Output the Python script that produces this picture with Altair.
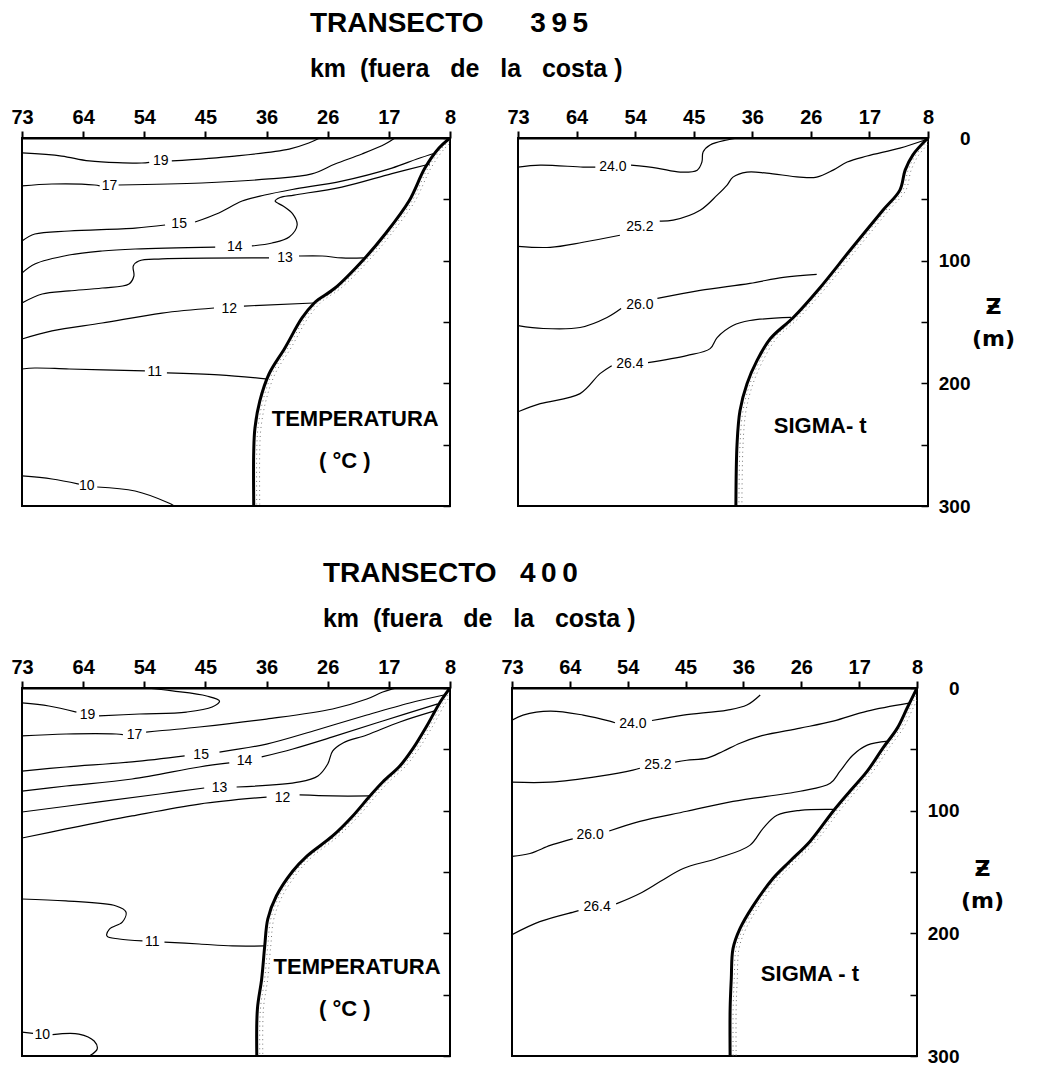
import altair as alt
import pandas as pd

FONT = "Liberation Sans"
KM_LABELS = ["73", "64", "54", "45", "36", "26", "17", "8"]
STATIONS = list(range(8))
DEPTH_TICKS = [0, 50, 100, 150, 200, 250, 300]

# x = station index (0 -> 73 km ... 7 -> 8 km), y = depth (m)
# each contour: (left part, label position, right part)
# ---------------- TRANSECTO 395 : temperatura ----------------
T395_T19 = ([(0, 12.2), (0.65, 14.7), (1.10, 18.7), (1.96, 20.4), (2.08, 19.8)], (2.27, 19.0),
            [(2.45, 18.7), (3.48, 14.7), (4.37, 9.0), (4.69, 4.1), (4.87, 0)])
T395_T17 = ([(0, 39.1), (0.49, 37.5), (1.19, 38.3), (1.27, 39.0)], (1.43, 39.5),
            [(1.58, 38.3), (2.94, 36.7), (4.04, 33.4), (4.74, 29.3), (5.12, 21.2), (5.56, 13.0), (5.94, 4.9), (6.10, 0)])
T395_T15 = ([(0, 84.0), (0.21, 78.3), (0.77, 75.8), (1.85, 73.4), (2.34, 70.9)], (2.57, 70.5),
            [(2.83, 68.5), (3.22, 61.1), (3.60, 51.4), (3.97, 46.5), (4.42, 42.0), (5.23, 35.1), (6.05, 24.5), (6.46, 17.1), (6.76, 12.2)])
T395_T14 = ([(0, 110.1), (0.21, 102.7), (0.77, 95.4), (1.31, 92.1), (1.85, 90.5), (3.16, 88.9)], (3.48, 88.9),
            [(3.76, 88.0), (4.09, 85.6), (4.37, 80.7), (4.50, 70.9), (4.43, 62.0), (4.27, 55.4), (4.14, 51.4), (4.22, 48.5),
             (4.45, 46.5), (5.23, 40.0), (6.05, 29.0), (6.67, 21.2)])
T395_T13 = ([(0, 134.5), (0.33, 127.2), (0.77, 124.7), (1.31, 122.3), (1.75, 119.0), (1.83, 112.5), (1.82, 104.3),
             (1.91, 100.3), (2.29, 98.6), (4.04, 97.8)], (4.30, 97.8),
            [(4.53, 96.2), (4.91, 96.2), (5.23, 97.8), (5.59, 97.8)])
T395_T12 = ([(0, 163.9), (0.49, 157.3), (1.31, 150.8), (2.29, 142.7), (3.14, 138.6)], (3.39, 139.4),
            [(3.63, 137.0), (4.77, 134.5)])
T395_T11 = ([(0, 188.3), (0.21, 187.5), (0.77, 188.3), (2.01, 189.9)], (2.17, 190.7),
            [(2.37, 191.5), (3.22, 193.1), (4.02, 196.5)])
T395_T10 = ([(0, 275.5), (0.49, 278.0), (0.93, 282.1)], (1.06, 283.7),
            [(1.23, 284.5), (1.85, 287.8), (2.40, 297.6), (2.49, 300)])
T395_BOTTOM = [(7, 0), (6.82, 8.2), (6.59, 24.5), (6.33, 51.4), (5.94, 78.3), (5.61, 97.8), (5.12, 122.3),
               (4.86, 131.2), (4.78, 134.5), (4.58, 146.7), (4.30, 171.2), (4.04, 192.4), (3.89, 214.4),
               (3.81, 236.4), (3.79, 255.2), (3.79, 300)]

# ---------------- TRANSECTO 395 : sigma-t ----------------
S395_240 = ([(0, 23.7), (0.38, 22.1), (1.11, 23.7), (1.32, 23.7)], (1.62, 23.7),
            [(1.93, 22.1), (2.37, 24.5), (2.77, 27.8), (3.06, 26.2), (3.14, 19.6), (3.16, 11.4), (3.28, 5.7), (3.57, 1.6), (3.75, 0)])
S395_252 = ([(0, 88.3), (0.55, 89.1), (1.11, 85.0), (1.74, 79.3)], (2.08, 72.5),
            [(2.42, 67.8), (2.65, 67.0), (3.11, 58.9), (3.40, 46.6), (3.57, 38.4), (3.67, 31.9), (3.91, 27.8), (4.25, 28.6),
             (4.81, 31.9), (5.10, 31.9), (5.38, 26.2), (5.62, 19.6), (5.96, 14.7), (6.52, 8.2), (6.95, 1.6)])
S395_260 = ([(0, 152.9), (0.43, 155.3), (1.06, 154.5), (1.52, 146.3), (1.76, 139.0)], (2.08, 136.5),
            [(2.38, 130.8), (3.11, 124.2), (3.96, 118.5), (4.53, 113.6), (5.10, 111.2)])
S395_264 = ([(0, 223.2), (0.38, 216.6), (1.06, 208.4), (1.40, 192.1), (1.60, 185.6)], (1.91, 183.9),
            [(2.22, 183.1), (2.88, 177.4), (3.28, 171.7), (3.40, 162.7), (3.67, 152.9), (3.96, 148.8), (4.66, 146.3)])
S395_BOTTOM = [(7, 0), (6.74, 13.9), (6.61, 26.2), (6.52, 42.5), (6.23, 58.9), (5.67, 91.5), (5.16, 121.8),
               (4.70, 146.3), (4.31, 163.5), (4.08, 181.5), (3.91, 200.3), (3.79, 222.3), (3.74, 249.3), (3.72, 300)]

# ---------------- TRANSECTO 400 : temperatura ----------------
T400_T19 = ([(0, 12.2), (0.44, 14.7), (0.89, 19.6)], (1.07, 22.0),
            [(1.26, 22.8), (1.92, 21.2), (2.69, 19.6), (3.11, 15.5), (3.23, 10.6), (3.02, 6.5), (2.46, 2.4), (2.03, 0)])
T400_T17 = ([(0, 39.1), (0.72, 37.5), (1.54, 37.5), (1.65, 38.0)], (1.84, 38.3),
            [(2.03, 35.9), (2.90, 31.8), (4.0, 25.3), (5.08, 17.1), (5.64, 9.0), (5.90, 3.3), (6.13, 0)])
T400_T15 = ([(0, 67.7), (0.72, 64.4), (1.80, 60.3), (2.66, 55.4)], (2.93, 54.6),
            [(3.23, 52.2), (4.0, 45.7), (4.82, 34.2), (5.64, 22.0), (6.34, 12.2), (6.90, 5.7)])
T400_T14 = ([(0, 84.0), (0.72, 79.9), (1.80, 74.2), (2.90, 64.4), (3.39, 61.1)], (3.64, 59.5),
            [(3.92, 56.2), (4.43, 49.7), (5.08, 39.9), (5.90, 26.9), (6.80, 13.0)])
T400_T13 = ([(0, 101.1), (1.26, 92.9), (2.25, 86.4), (2.98, 81.5)], (3.23, 81.5),
            [(3.51, 80.7), (4.54, 76.6), (4.84, 71.7), (5.0, 62.0), (5.08, 51.4), (5.25, 44.8), (5.64, 38.3), (6.18, 27.7), (6.75, 18.7)])
T400_T12 = ([(0, 122.3), (0.72, 114.9), (1.80, 104.3), (2.90, 94.6), (4.0, 88.9)], (4.26, 89.7),
            [(4.54, 87.2), (5.08, 88.0), (5.69, 88.0)])
T400_T11 = ([(0, 172.0), (0.72, 173.6), (1.54, 177.7), (1.70, 182.6), (1.64, 190.8), (1.43, 196.5), (1.39, 202.2),
             (1.59, 204.6), (1.97, 206.2)], (2.13, 207.1),
            [(2.33, 207.1), (2.90, 208.7), (3.44, 210.3), (3.97, 210.3)])
T400_T10 = ([(0, 280.5), (0.18, 281.5)], (0.33, 283.0),
            [(0.50, 282.5), (0.93, 282.1), (1.18, 287.8), (1.23, 294.3), (1.10, 300)])
T400_BOTTOM = [(7, 0), (6.84, 11.4), (6.62, 31.0), (6.39, 49.7), (6.18, 63.6), (5.90, 76.6), (5.69, 88.0),
               (5.41, 104.3), (5.08, 120.6), (4.66, 137.0), (4.43, 149.2), (4.16, 169.6), (4.02, 188.3),
               (3.97, 210.3), (3.92, 237.2), (3.85, 261.7), (3.84, 300)]

# ---------------- TRANSECTO 400 : sigma-t ----------------
S400_240 = ([(0, 26.2), (0.19, 22.1), (0.66, 18.8), (1.23, 22.1), (1.69, 27.0), (1.78, 28.3)], (2.09, 29.5),
            [(2.42, 26.5), (2.96, 22.1), (3.72, 18.0), (4.06, 13.9), (4.29, 5.7)])
S400_252 = ([(0, 76.8), (0.66, 76.8), (1.52, 71.9), (2.09, 67.0), (2.21, 65.4)], (2.52, 63.0),
            [(2.82, 60.5), (3.02, 58.9), (3.37, 57.2), (3.65, 51.5), (3.94, 45.0), (4.29, 39.2), (4.98, 32.7),
             (5.55, 27.0), (6.14, 18.8), (6.86, 12.3)])
S400_260 = ([(0, 137.3), (0.31, 134.9), (0.66, 128.3), (0.95, 124.2), (1.05, 123.0)], (1.35, 120.2),
            [(1.68, 116.6), (2.21, 108.7), (3.02, 100.5), (3.82, 92.4), (4.98, 84.2), (5.50, 77.7), (5.67, 67.8),
             (5.89, 54.8), (6.14, 46.6), (6.50, 43.3)])
S400_264 = ([(0, 201.1), (0.48, 190.5), (1.09, 182.3), (1.15, 181.5)], (1.47, 178.2),
            [(1.80, 176.0), (2.21, 167.5), (2.56, 157.8), (2.96, 147.1), (3.54, 139.0), (4.11, 128.3), (4.34, 114.4),
             (4.58, 103.8), (4.98, 99.7), (5.55, 98.9)])
S400_BOTTOM = [(7, 0), (6.83, 16.3), (6.66, 32.7), (6.41, 49.0), (6.14, 67.8), (5.84, 84.2), (5.55, 100.5),
               (5.15, 125.1), (4.80, 141.4), (4.51, 155.3), (4.17, 177.4), (3.94, 196.2), (3.82, 212.5),
               (3.79, 237.0), (3.77, 261.6), (3.77, 300)]

T395_TEMP = [("19", T395_T19), ("17", T395_T17), ("15", T395_T15), ("14", T395_T14), ("13", T395_T13),
             ("12", T395_T12), ("11", T395_T11), ("10", T395_T10)]
T395_SIG = [("24.0", S395_240), ("25.2", S395_252), ("26.0", S395_260), ("26.4", S395_264)]
T400_TEMP = [("19", T400_T19), ("17", T400_T17), ("15", T400_T15), ("14", T400_T14), ("13", T400_T13),
             ("12", T400_T12), ("11", T400_T11), ("10", T400_T10)]
T400_SIG = [("24.0", S400_240), ("25.2", S400_252), ("26.0", S400_260), ("26.4", S400_264)]

T395_TEMP_TEXT = [("TEMPERATURA", 5.45, 229.0), ("( °C )", 5.28, 263.0)]
T395_SIG_TEXT = [("SIGMA- t", 5.16, 234.6)]
T400_TEMP_TEXT = [("TEMPERATURA", 5.48, 227.4), ("( °C )", 5.28, 262.0)]
T400_SIG_TEXT = [("SIGMA - t", 5.15, 233.0)]

NB = "\u00a0"
LABEL_EXPR = "[" + ",".join("'%s'" % k for k in KM_LABELS) + "][datum.value]"
DEPTH_LABEL_EXPR = "datum.value % 100 == 0 ? datum.label : ''"


def frames(contours):
    rows, labs = [], []
    for name, (left, lab, right) in contours:
        for k, seg in enumerate([left, right]):
            for i, (s, d) in enumerate(seg):
                rows.append({"seg": name + "-" + str(k), "i": i, "s": s, "d": d})
        labs.append({"s": lab[0], "d": lab[1], "t": name})
    return pd.DataFrame(rows), pd.DataFrame(labs)


def panel(contours, bottom, texts, width, height, right_labels, title_y):
    lines_df, labs_df = frames(contours)
    prof_df = pd.DataFrame(bottom, columns=["s", "d"])
    prof_df["i"] = range(len(prof_df))
    text_df = pd.DataFrame(texts, columns=["t", "s", "d"])

    xs = alt.Scale(domain=[0, 7], nice=False, zero=False)
    ys = alt.Scale(domain=[0, 300], nice=False, zero=False, reverse=True)
    x_axis = alt.Axis(orient="top", values=STATIONS, labelExpr=LABEL_EXPR, title=None, tickSize=7,
                      tickWidth=2, domainWidth=2, labelPadding=4, labelFlush=False, labelOverlap=False,
                      labelFontSize=20, labelFont=FONT, labelFontWeight="bold", grid=False,
                      tickColor="black", domainColor="black", labelColor="black")
    y_kw = dict(orient="right", values=DEPTH_TICKS, offset=-7, tickSize=7, tickWidth=1.5, domain=False,
                grid=False, tickColor="black", labels=right_labels,
                labelExpr=DEPTH_LABEL_EXPR, labelAlign="right",
                labelPadding=42, labelFontSize=19, labelFont=FONT, labelFontWeight="bold",
                labelColor="black", labelBaseline="middle")
    if right_labels:
        y_kw.update(title=["Ƶ", "(m)"], titleAngle=0, titleX=72, titleY=title_y, titleAlign="center",
                    titleBaseline="middle", titleFontSize=22, titleFont="DejaVu Sans",
                    titleFontWeight="bold", titleColor="black", titleLineHeight=32)
    else:
        y_kw.update(title=None)
    y_axis = alt.Axis(**y_kw)

    X = alt.X("s:Q", scale=xs, axis=x_axis)
    Y = alt.Y("d:Q", scale=ys, axis=y_axis)

    lines = alt.Chart(lines_df).mark_line(color="black", strokeWidth=1.2, interpolate="catmull-rom",
                                          clip=True).encode(x=X, y=Y, detail="seg:N", order="i:Q")
    stipple = [alt.Chart(prof_df).mark_line(color="#777777", strokeWidth=1, strokeDash=[1, 3.5],
                                            xOffset=off, interpolate="catmull-rom", clip=True).encode(
        x=X, y=Y, order="i:Q") for off in (3, 6)]
    prof = alt.Chart(prof_df).mark_line(color="black", strokeWidth=3, interpolate="catmull-rom",
                                        clip=True).encode(x=X, y=Y, order="i:Q")
    labs = alt.Chart(labs_df).mark_text(font=FONT, fontSize=14, color="black").encode(x=X, y=Y, text="t:N")
    big = alt.Chart(text_df).mark_text(font=FONT, fontSize=22, fontWeight="bold", color="black").encode(
        x=X, y=Y, text="t:N")
    return alt.layer(lines, *stipple, prof, labs, big).properties(width=width, height=height)


SUBTITLE = "km" + NB + " (fuera" + NB * 2 + " de" + NB * 2 + " la" + NB * 2 + " costa )"


def row_title(text, dx):
    return alt.TitleParams(text=text, subtitle=SUBTITLE, anchor="start", dx=dx,
                           font=FONT, fontSize=28, fontWeight="bold", color="black",
                           subtitleFont=FONT, subtitleFontSize=25, subtitleFontWeight="bold",
                           subtitleColor="black", subtitlePadding=19, offset=24)


tl = panel(T395_TEMP, T395_BOTTOM, T395_TEMP_TEXT, 428, 368, False, 168)
tr = panel(T395_SIG, S395_BOTTOM, T395_SIG_TEXT, 410, 368, True, 168)
bl = panel(T400_TEMP, T400_BOTTOM, T400_TEMP_TEXT, 428, 368, False, 180)
br = panel(T400_SIG, S400_BOTTOM, T400_SIG_TEXT, 405, 368, True, 180)

row1 = alt.hconcat(tl, tr, spacing=48).properties(
    title=row_title("TRANSECTO" + NB * 6 + "3\u20099\u20095", 300))
row2 = alt.hconcat(bl, br, spacing=42).properties(
    title=row_title("TRANSECTO" + NB * 3 + "4\u20090\u20090", 313))

chart = alt.vconcat(row1, row2, spacing=43).properties(
    padding={"left": 1, "top": 2, "right": 5, "bottom": 0},
    background="white"
).configure_view(stroke="black", strokeWidth=2)

chart.save("out.html", embed_options={"renderer": "svg", "actions": False})
